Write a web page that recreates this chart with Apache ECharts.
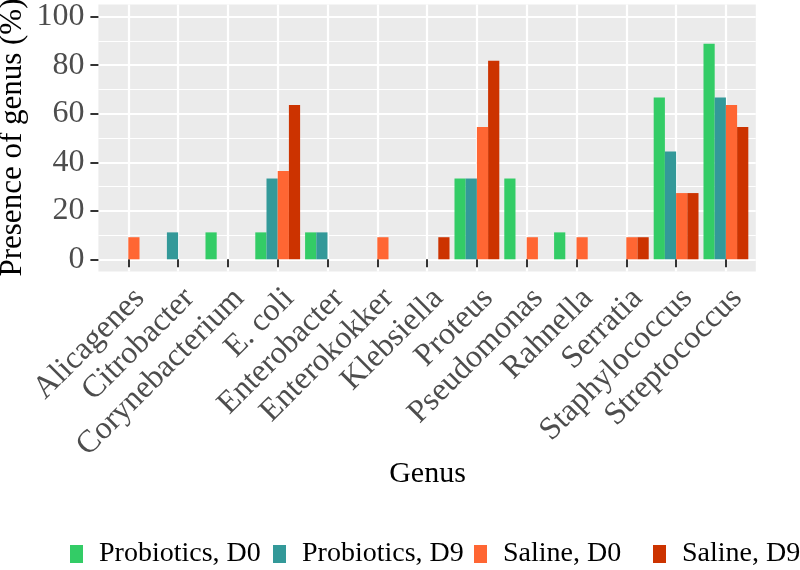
<!DOCTYPE html>
<html>
<head>
<meta charset="utf-8">
<script src="https://cdn.jsdelivr.net/npm/echarts@6/dist/echarts.min.js"></script>
<style>html,body{margin:0;padding:0;background:#fff;}#c{width:800px;height:570px;}</style>
</head>
<body>
<div id="c"></div>
<script>
const categories = ['Alicagenes','Citrobacter','Corynebacterium','E. coli','Enterobacter','Enterokokker','Klebsiella','Proteus','Pseudomonas','Rahnella','Serratia','Staphylococcus','Streptococcus'];
const seriesNames = ['Probiotics, D0','Probiotics, D9','Saline, D0','Saline, D9'];
const probioticsD0 = [null, null, 11.1, 11.1, 11.1, null, null, 33.3, 33.3, 11.1, null, 66.7, 88.9];
const probioticsD9 = [null, 11.1, null, 33.3, 11.1, null, null, 33.3, null, null, null, 44.4, 66.7];
const salineD0     = [9.1, null, null, 36.4, null, 9.1, null, 54.5, 9.1, 9.1, 9.1, 27.3, 63.6];
const salineD9     = [null, null, null, 63.6, null, null, 9.1, 81.8, null, null, 9.1, 27.3, 54.5];
const yTicks = [0, 20, 40, 60, 80, 100];

const colors = ['#33CC66', '#339999', '#FF6633', '#CC3300'];
const FONT = 'Liberation Serif';

// background panel scaffolding: positions in tenths of a category (x), units of % (y)
const bgX = Array.from({length: 133}, (_, i) => String(i));
const bgY = Array.from({length: 111}, (_, i) => String(i - 5));

const chart = echarts.init(document.getElementById('c'), null, {renderer: 'canvas'});
const allData = [probioticsD0, probioticsD9, salineD0, salineD9];
const legendLefts = [70, 273, 474, 653];

chart.setOption({
  animation: false,
  grid: [
    {left: 103.4, top: 16.7, width: 647.4, height: 242.6, show: false},
    {left: 98.4, top: 4.6, width: 657.4, height: 266.8, show: true, backgroundColor: '#EBEBEB', borderWidth: 0}
  ],
  xAxis: [
    {
      type: 'category', gridIndex: 0, data: categories, offset: 11,
      axisLine: {show: false},
      axisTick: {show: true, alignWithLabel: true, length: 8, lineStyle: {color: '#333333', width: 2}},
      axisLabel: {interval: 0, rotate: 45, margin: 12, fontSize: 32, fontFamily: FONT, color: '#4D4D4D', verticalAlign: 'top'},
      splitLine: {show: false}
    },
    {
      type: 'category', gridIndex: 1, data: bgX, boundaryGap: false,
      axisLine: {show: false}, axisTick: {show: false}, axisLabel: {show: false},
      splitLine: {show: true, interval: (i) => (i - 6) % 10 === 0, lineStyle: {color: '#FFFFFF', width: 2.2}}
    }
  ],
  yAxis: [
    {
      type: 'value', gridIndex: 0, min: 0, max: 100, interval: 20, offset: 5,
      axisLine: {show: false},
      axisTick: {show: true, length: 8, lineStyle: {color: '#333333', width: 2}},
      axisLabel: {margin: 14, fontSize: 32, fontFamily: FONT, color: '#4D4D4D',
        formatter: (v) => yTicks.includes(v) ? String(v) : ''},
      splitLine: {show: false}
    },
    {
      type: 'category', gridIndex: 1, data: bgY, boundaryGap: false, position: 'left',
      axisLine: {show: false}, axisTick: {show: false}, axisLabel: {show: false},
      splitLine: {show: true, interval: (i) => (i - 5) % 20 === 0, lineStyle: {color: '#FFFFFF', width: 2.2}}
    },
    {
      type: 'category', gridIndex: 1, data: bgY, boundaryGap: false, position: 'right',
      axisLine: {show: false}, axisTick: {show: false}, axisLabel: {show: false},
      splitLine: {show: true, interval: (i) => (i - 5) % 20 === 10, lineStyle: {color: '#FFFFFF', width: 1.2}}
    }
  ],
  legend: seriesNames.map((name, k) => ({
    left: legendLefts[k], top: 540, padding: 0, itemWidth: 13, itemHeight: 18, icon: 'rect',
    data: [name],
    textStyle: {fontSize: 28, lineHeight: 28, fontFamily: FONT, color: '#000000', padding: [0, 0, 0, 11]}
  })),
  graphic: {
    elements: [
      {type: 'text', x: 13, y: 137.5, rotation: Math.PI / 2,
        style: {text: 'Presence of genus (%)', font: '31px "Liberation Serif"', fill: '#000000', textAlign: 'center', textVerticalAlign: 'middle'}},
      {type: 'text', x: 427.5, y: 474,
        style: {text: 'Genus', font: '30px "Liberation Serif"', fill: '#000000', textAlign: 'center', textVerticalAlign: 'middle'}}
    ]
  },
  series: seriesNames.map((name, k) => ({
    name: name, type: 'bar', xAxisIndex: 0, yAxisIndex: 0,
    data: allData[k], barGap: '0%', barCategoryGap: '10%',
    itemStyle: {color: colors[k]}
  }))
});
</script>
</body>
</html>
